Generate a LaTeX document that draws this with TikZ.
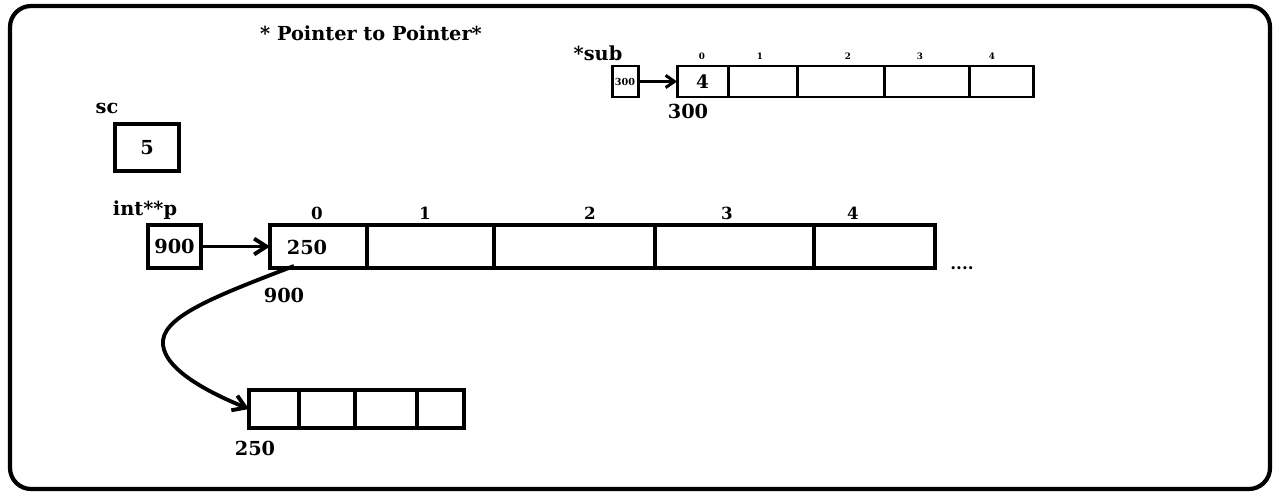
\documentclass[tikz,border=0pt]{standalone}
\usepackage{fontspec}
\setmainfont{DejaVu Serif}
\usetikzlibrary{arrows.meta}
\begin{document}
\begin{tikzpicture}[x=0.02cm,y=-0.02cm,
  every node/.style={font=\bfseries},
  cell/.style={draw,line width=2.2pt,inner sep=0pt,outer sep=0pt,anchor=north west},
  scell/.style={draw,line width=1.7pt,inner sep=0pt,outer sep=0pt,anchor=north west},
  lbl/.style={font=\bfseries\fontsize{11}{12}\selectfont,inner sep=0pt},
  val/.style={font=\bfseries\fontsize{11}{12}\selectfont},
  idx/.style={font=\bfseries\fontsize{9.5}{10}\selectfont,inner sep=0pt},
  sidx/.style={font=\bfseries\fontsize{5}{6}\selectfont,inner sep=0pt},
  ptr/.style={line width=2.2pt,-{Straight Barb[length=7pt,width=9pt,line width=2.2pt]}},
  sptr/.style={line width=1.7pt,-{Straight Barb[length=5pt,width=7pt,line width=1.7pt]}}
]
\useasboundingbox (0,0) rectangle (1280,500);
\draw[line width=2.4pt,rounded corners=12pt] (10,6) rectangle (1270,489);
\node[lbl] (title) at (371,33) {* Pointer to Pointer*};

% *sub
\node[lbl] (sublbl) at (598,53) {*sub};
\node[scell,minimum width=26*0.02cm,minimum height=31*0.02cm,font=\bfseries\fontsize{5.5}{6}\selectfont] (sub) at (612,66) {300};
\node[scell,minimum width=51*0.02cm,minimum height=31*0.02cm,font=\bfseries\fontsize{10.5}{11}\selectfont] (t0) at (677,66) {4};
\node[scell,minimum width=69*0.02cm,minimum height=31*0.02cm] (t1) at (728,66) {};
\node[scell,minimum width=87*0.02cm,minimum height=31*0.02cm] (t2) at (797,66) {};
\node[scell,minimum width=85*0.02cm,minimum height=31*0.02cm] (t3) at (884,66) {};
\node[scell,minimum width=64*0.02cm,minimum height=31*0.02cm] (t4) at (969,66) {};
\node[sidx] (ti0) at (702,56) {0};
\node[sidx] (ti1) at (760,56) {1};
\node[sidx] (ti2) at (848,56) {2};
\node[sidx] (ti3) at (920,56) {3};
\node[sidx] (ti4) at (992,56) {4};
\node[lbl] (t300) at (688,111) {300};
\draw[sptr] (sub.east) -- (sub.east -| t0.west);

% sc
\node[lbl] (sclbl) at (107,108) {sc};
\node[cell,minimum width=64*0.02cm,minimum height=47*0.02cm,val] (sc) at (115,124) {5};

% int**p
\node[lbl] (plbl) at (145,210) {int**p};
\node[cell,minimum width=53*0.02cm,minimum height=43*0.02cm,val] (p) at (148,225) {900};

% main array
\node[cell,minimum width=97*0.02cm,minimum height=43*0.02cm] (m0) at (270,225) {};
\node[val,inner sep=0pt] (m0v) at (307,247) {250};
\node[cell,minimum width=127*0.02cm,minimum height=43*0.02cm] (m1) at (367,225) {};
\node[cell,minimum width=161*0.02cm,minimum height=43*0.02cm] (m2) at (494,225) {};
\node[cell,minimum width=159*0.02cm,minimum height=43*0.02cm] (m3) at (655,225) {};
\node[cell,minimum width=121*0.02cm,minimum height=43*0.02cm] (m4) at (814,225) {};
\node[idx] (mi0) at (317,213) {0};
\node[idx] (mi1) at (425,213) {1};
\node[idx] (mi2) at (590,213) {2};
\node[idx] (mi3) at (727,213) {3};
\node[idx] (mi4) at (853,213) {4};
\node[idx] (dots) at (962,268) {....};
\node[lbl] (m900) at (284,295) {900};
\draw[ptr] (p.east) -- (m0.west);

% bottom array
\node[cell,minimum width=50*0.02cm,minimum height=38*0.02cm] (b0) at (249,390) {};
\node[cell,minimum width=56*0.02cm,minimum height=38*0.02cm] (b1) at (299,390) {};
\node[cell,minimum width=62*0.02cm,minimum height=38*0.02cm] (b2) at (355,390) {};
\node[cell,minimum width=47*0.02cm,minimum height=38*0.02cm] (b3) at (417,390) {};
\node[lbl] (b250) at (255,448) {250};

\coordinate (cs) at (294,266);
\coordinate (cm) at (163,345);
\draw[ptr] (cs) .. controls (210,298) and (160,318) .. (cm) .. controls (166,372) and (215,395) .. (b0.west);
\end{tikzpicture}
\end{document}
